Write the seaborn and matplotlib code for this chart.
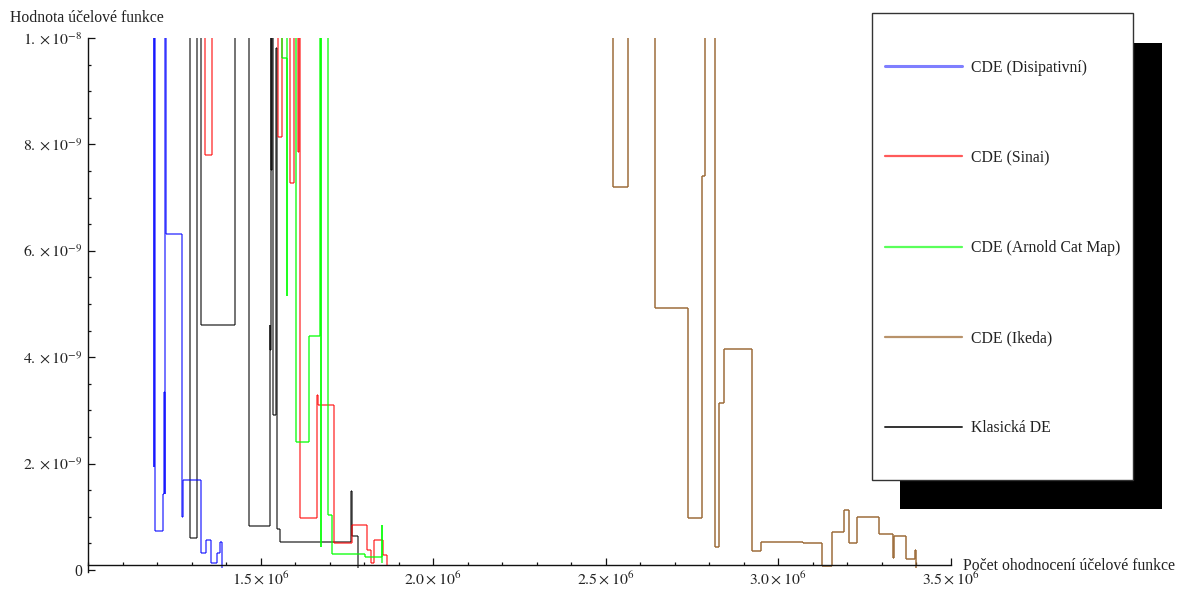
import matplotlib
matplotlib.use("Agg")
import matplotlib.pyplot as plt
import seaborn as sns
import pandas as pd
from matplotlib.lines import Line2D
from matplotlib.patches import Rectangle
from matplotlib.ticker import FixedLocator, FixedFormatter, MultipleLocator

# value above the plotted range (curve leaves the chart at the top)
V = 1.3e-8

serie = ["CDE (Disipativní)", "CDE (Sinai)", "CDE (Arnold Cat Map)", "CDE (Ikeda)", "Klasická DE"]

dis_x = [1.1913e6, 1.1913e6, 1.1925e6, 1.1936e6, 1.2183e6, 1.2209e6, 1.2226e6, 1.2243e6, 1.2261e6,
         1.2716e6, 1.2739e6, 1.2762e6, 1.3275e6, 1.3412e6, 1.3557e6, 1.3730e6, 1.3826e6, 1.3870e6]
dis_y = [V, 1.94e-9, V, 0.73e-9, 1.43e-9, 3.35e-9, 1.43e-9, V, 6.32e-9,
         2.67e-9, 1.00e-9, 1.69e-9, 0.32e-9, 0.56e-9, 0.13e-9, 0.32e-9, 0.53e-9, 0.04e-9]

sinai_x = [1.3391e6, 1.3391e6, 1.3586e6, 1.5516e6, 1.5632e6, 1.5841e6, 1.5980e6, 1.6096e6, 1.6116e6,
           1.6145e6, 1.6629e6, 1.6667e6, 1.7130e6, 1.7661e6, 1.8078e6, 1.8203e6, 1.8299e6, 1.8559e6, 1.8658e6]
sinai_y = [V, 7.80e-9, V, 8.14e-9, V, 7.27e-9, V, 7.86e-9, V,
           0.97e-9, 3.29e-9, 3.11e-9, 0.50e-9, 0.85e-9, 0.38e-9, 0.13e-9, 0.56e-9, 0.28e-9, 0.09e-9]

arnold_x = [1.5614e6, 1.5614e6, 1.5759e6, 1.5777e6, 1.6020e6, 1.6414e6, 1.6725e6, 1.6745e6, 1.6768e6,
            1.6965e6, 1.7064e6, 1.8029e6, 1.8513e6, 1.8530e6]
arnold_y = [V, 9.62e-9, 5.15e-9, V, 2.41e-9, 4.39e-9, V, 0.44e-9, V,
            1.03e-9, 0.31e-9, 0.25e-9, 0.85e-9, 0.13e-9]

ikeda_x = [2.5203e6, 2.5203e6, 2.5652e6, 2.6435e6, 2.7400e6, 2.7806e6, 2.7870e6, 2.8174e6, 2.8299e6,
           2.8443e6, 2.9238e6, 2.9499e6, 3.0733e6, 3.1267e6, 3.1574e6, 3.1922e6, 3.2049e6, 3.2281e6,
           3.2919e6, 3.3342e6, 3.3362e6, 3.3701e6, 3.3971e6, 3.3986e6]
ikeda_y = [V, 7.20e-9, V, 4.92e-9, 0.98e-9, 7.41e-9, V, 0.44e-9, 3.14e-9,
           4.15e-9, 0.36e-9, 0.53e-9, 0.51e-9, 0.08e-9, 0.72e-9, 1.13e-9, 0.50e-9, 0.99e-9,
           0.68e-9, 0.23e-9, 0.64e-9, 0.20e-9, 0.38e-9, 0.04e-9]

klas_x = [1.2957e6, 1.2957e6, 1.3151e6, 1.3275e6, 1.4261e6, 1.4667e6, 1.5275e6, 1.5287e6, 1.5299e6,
          1.5310e6, 1.5322e6, 1.5362e6, 1.5449e6, 1.5470e6, 1.5565e6, 1.7623e6, 1.7643e6, 1.7835e6]
klas_y = [V, 0.60e-9, V, 4.61e-9, V, 0.83e-9, 4.61e-9, 4.14e-9, V,
          7.52e-9, V, 2.91e-9, 9.81e-9, 0.78e-9, 0.53e-9, 1.49e-9, 0.63e-9, 0.03e-9]

x_ticks = [1.5e6, 2.0e6, 2.5e6, 3.0e6, 3.5e6]
x_labels = [r"$1.5\times10^{6}$", r"$2.0\times10^{6}$", r"$2.5\times10^{6}$",
            r"$3.0\times10^{6}$", r"$3.5\times10^{6}$"]
y_ticks = [0, 2e-9, 4e-9, 6e-9, 8e-9, 1e-8]
y_labels = ["0", r"$2.\times10^{-9}$", r"$4.\times10^{-9}$", r"$6.\times10^{-9}$",
            r"$8.\times10^{-9}$", r"$1.\times10^{-8}$"]

data = {
    "Klasická DE": (klas_x, klas_y),
    "CDE (Disipativní)": (dis_x, dis_y),
    "CDE (Sinai)": (sinai_x, sinai_y),
    "CDE (Arnold Cat Map)": (arnold_x, arnold_y),
    "CDE (Ikeda)": (ikeda_x, ikeda_y),
}
styl = {
    "CDE (Disipativní)": ((0.0, 0.0, 1.0), 0.55),
    "CDE (Sinai)": ((1.0, 0.0, 0.0), 0.55),
    "CDE (Arnold Cat Map)": ((0.0, 1.0, 0.0), 0.65),
    "CDE (Ikeda)": ((0.6, 0.4, 0.2), 0.75),
    "Klasická DE": ((0.0, 0.0, 0.0), 0.55),
}
leg_styl = {
    "CDE (Disipativní)": ("#7f7fff", 2.2),
    "CDE (Sinai)": ("#ff5a5a", 1.6),
    "CDE (Arnold Cat Map)": ("#5aff5a", 1.6),
    "CDE (Ikeda)": ("#b8926a", 1.6),
    "Klasická DE": ("#333333", 1.4),
}


def schody(xs, ys):
    vx, vy = [xs[0]], [ys[0]]
    for i in range(1, len(xs)):
        vx.append(xs[i]); vy.append(ys[i - 1])
        vx.append(xs[i]); vy.append(ys[i])
    return vx, vy


rows = []
seg = 0
for name, (xs, ys) in data.items():
    vx, vy = schody(xs, ys)
    for j in range(len(vx) - 1):
        if vx[j] == vx[j + 1] and vy[j] == vy[j + 1]:
            continue
        rows.append((name, seg, vx[j], vy[j]))
        rows.append((name, seg, vx[j + 1], vy[j + 1]))
        seg += 1
df = pd.DataFrame(rows, columns=["serie", "seg", "x", "y"])

sns.set_style("ticks")
plt.rcParams["font.family"] = ["Liberation Serif", "DejaVu Serif"]
plt.rcParams["mathtext.fontset"] = "stix"

W, H = 1186, 590
fig = plt.figure(figsize=(W / 100, H / 100), dpi=100)
fig.patch.set_facecolor("white")
ax_l, ax_r, ax_t, ax_b = 88, 950.5, 38, 571.6
ax = fig.add_axes([ax_l / W, (H - ax_b) / H, (ax_r - ax_l) / W, (ax_b - ax_t) / H])
ax.set_facecolor("white")

for name in data:
    col, a = styl[name]
    sub = df[df["serie"] == name]
    sns.lineplot(data=sub, x="x", y="y", units="seg", estimator=None, sort=False,
                 color=col, alpha=a, lw=1.4, solid_capstyle="butt", ax=ax, legend=False)

ax.set_xlim(1.0e6, 3.5e6)
ax.set_ylim(-0.03e-9, 1.0e-8)
ax.set_xlabel("")
ax.set_ylabel("")

for s in ("top", "right"):
    ax.spines[s].set_visible(False)
ax.spines["bottom"].set_position(("data", 1e-10))
for s in ("bottom", "left"):
    ax.spines[s].set_linewidth(1.0)
    ax.spines[s].set_color("#111111")

ax.xaxis.set_major_locator(FixedLocator(x_ticks))
ax.xaxis.set_major_formatter(FixedFormatter(x_labels))
ax.xaxis.set_minor_locator(MultipleLocator(1e5))
ax.yaxis.set_major_locator(FixedLocator(y_ticks))
ax.yaxis.set_major_formatter(FixedFormatter(y_labels))
ax.yaxis.set_minor_locator(MultipleLocator(5e-10))
ax.tick_params(which="both", direction="in", color="#111111", width=0.9,
               bottom=True, left=True, top=False, right=False)
ax.tick_params(which="major", length=4.8)
ax.tick_params(which="minor", length=2.4)
ax.tick_params(axis="x", which="major", labelsize=11.3, labelcolor="#222222", pad=5)
ax.tick_params(axis="y", which="major", labelsize=11.3, labelcolor="#222222", pad=4)

fig.text(10 / W, 1 - 18 / H, "Hodnota účelové funkce", fontsize=11.3, color="#222222",
         ha="left", va="center")
fig.text(963 / W, 1 - 566 / H, "Počet ohodnocení účelové funkce", fontsize=11.3, color="#222222",
         ha="left", va="center")

# legend box with shadow
fig.add_artist(Rectangle((900 / W, 1 - 509 / H), 262 / W, 466 / H, transform=fig.transFigure,
                         facecolor="black", edgecolor="black", lw=0, zorder=2))
fig.add_artist(Rectangle((872 / W, 1 - 480 / H), 261 / W, 467 / H, transform=fig.transFigure,
                         facecolor="white", edgecolor="#333333", lw=1.0, zorder=3))
handles = [Line2D([], [], color=leg_styl[n][0], lw=leg_styl[n][1]) for n in serie]
leg = fig.legend(handles, serie, loc="center left", bbox_to_anchor=(885 / W, 1 - 248 / H),
                 frameon=False, fontsize=11.3, handlelength=4.9, handletextpad=0.55,
                 labelspacing=4.72, borderpad=0, borderaxespad=0)
for t in leg.get_texts():
    t.set_color("#222222")
leg.set_zorder(5)

fig.savefig("out.png", dpi=100, facecolor="white")
